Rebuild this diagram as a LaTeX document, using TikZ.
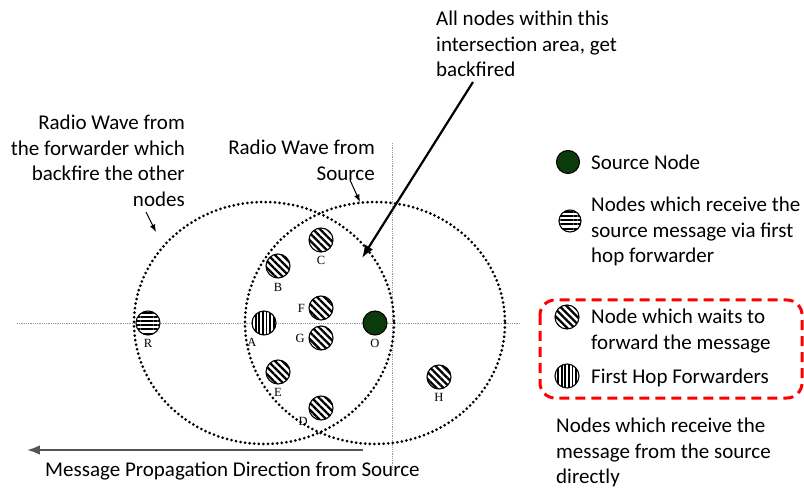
\documentclass[tikz,border=0pt]{standalone}
\usepackage{fontspec}
\setmainfont{Carlito}
\newfontfamily\lblfont{Liberation Serif}
\usetikzlibrary{patterns.meta}
\usetikzlibrary{arrows.meta}
\usetikzlibrary{backgrounds}
\definecolor{c_source}{HTML}{0B3A0B}
\definecolor{c_frame}{HTML}{FF0000}
\definecolor{c_axis}{HTML}{9A9A9A}
\definecolor{c_dir}{HTML}{555555}

\begin{document}
\begin{tikzpicture}
[x=1pt,y=-1pt,>=Latex,font=\fontsize{21}{25.5}\selectfont,
 nd/.style={circle,draw=black,line width=1.1pt,minimum size=24pt,inner sep=0pt,preaction={fill=white}},
 src/.style={nd,fill=c_source},
 hop2/.style={nd,pattern={Lines[angle=0,distance=4.2pt,line width=2pt]}},
 hop1/.style={nd,pattern={Lines[angle=90,distance=3.6pt,line width=1.8pt]}},
 wait/.style={nd,pattern={Lines[angle=-45,distance=5pt,line width=2.3pt]}},
 lbl/.style={font=\lblfont\fontsize{12.5}{14}\selectfont,inner sep=0pt,label distance=3.5pt},
 wave/.style={line width=3pt,dash pattern=on 0pt off 4.6pt,line cap=round},
 axis/.style={c_axis,line width=0.9pt,dash pattern=on 0.9pt off 0.9pt},
 note/.style={inner sep=0pt,anchor=north west,align=left},
 rnote/.style={inner sep=0pt,anchor=north east,align=right}]
	\useasboundingbox (0,0) rectangle (804,489);

	% nodes of the network
	\node [hop2, label={[lbl]below:R}] (R) at (148,323) {};
	\node [hop1, label={[lbl]243:A}] (A) at (264,323) {};
	\node [wait, label={[lbl]below:B}] (B) at (278,266) {};
	\node [wait, label={[lbl]below:C}] (C) at (321,240) {};
	\node [wait, label={[lbl]left:F}] (F) at (321,308) {};
	\node [wait, label={[lbl]left:G}] (G) at (321,338) {};
	\node [src, label={[lbl]below:O}] (O) at (375,323) {};
	\node [wait, label={[lbl]below:E}] (E) at (278,372) {};
	\node [wait, label={[lbl]215:D}] (D) at (321,408) {};
	\node [wait, label={[lbl]below:H}] (H) at (439,377) {};

	% radio waves and axes
	\begin{pgfonlayer}{background}
		\draw [axis] (17,323) -- (520,323);
		\draw [axis] (392,143) -- (392,470);
		\draw [wave] (A.center) ellipse [x radius=130, y radius=121];
		\draw [wave] (O.center) ellipse [x radius=130, y radius=121];
	\end{pgfonlayer}

	% annotations
	\node [note] (backfire) at (436,11) {All nodes within this\\intersection area, get\\backfired};
	\coordinate (backfire tail) at (473,82);
	\coordinate (backfire head) at (362,258);
	\draw [->, line width=2.2pt] (backfire tail) -- (backfire head);

	\node [rnote] (fwdwave) at (185,115) {Radio Wave from\\the forwarder which\\backfire the other\\nodes};
	\coordinate (fwdwave tail) at (146,212);
	\coordinate (fwdwave head) at (156,232);
	\draw [->, line width=1pt] (fwdwave tail) -- (fwdwave head);

	\node [rnote] (srcwave) at (375,140) {Radio Wave from\\Source};
	\coordinate (srcwave tail) at (350,180);
	\coordinate (srcwave head) at (360,202);
	\draw [->, line width=1pt] (srcwave tail) -- (srcwave head);

	\coordinate (dir tail) at (363,450);
	\coordinate (dir head) at (27,450);
	\draw [->, c_dir, line width=2.2pt] (dir tail) -- (dir head);
	\node [note] (dir) at (45,462) {Message Propagation Direction from Source};

	% legend
	\node [src, minimum size=23pt] (l_src) at (568,162) {};
	\node [note] (t_src) at (591,155) {Source Node};
	\node [hop2, minimum size=22pt] (l_hop2) at (570,221) {};
	\node [note] (t_hop2) at (591,197) {Nodes which receive the\\source message via first\\hop forwarder};
	\node [wait] (l_wait) at (567,317) {};
	\node [note] (t_wait) at (591,309) {Node which waits to\\forward the message};
	\node [hop1] (l_hop1) at (567,376) {};
	\node [note] (t_hop1) at (591,369) {First Hop Forwarders};
	\draw [c_frame, line width=3pt, dash pattern=on 10pt off 6pt, rounded corners=15pt] (540,300) rectangle (802,398);
	\node [note] (t_direct) at (556,418) {Nodes which receive the\\message from the source\\directly};
\end{tikzpicture}
\end{document}
